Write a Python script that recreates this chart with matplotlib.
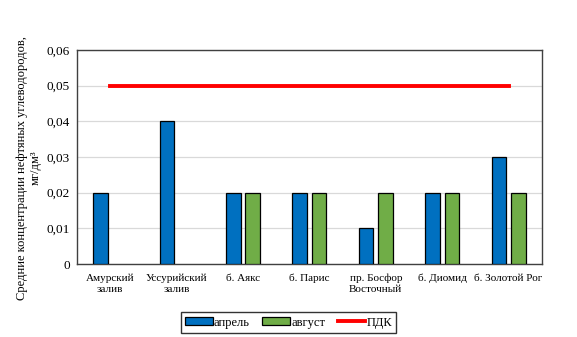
import matplotlib
matplotlib.use('Agg')
import matplotlib.pyplot as plt
import numpy as np

plt.rcParams['font.family'] = ['Liberation Serif', 'DejaVu Serif']

sites = ["Амурский\nзалив", "Уссурийский\nзалив", "б. Аякс", "б. Парис",
         "пр. Босфор\nВосточный", "б. Диомид", "б. Золотой Рог"]
april = [0.02, 0.04, 0.02, 0.02, 0.01, 0.02, 0.03]
august = [0, 0, 0.02, 0.02, 0.02, 0.02, 0.02]
pdk = [0.05] * 7
yticks = [0, 0.01, 0.02, 0.03, 0.04, 0.05, 0.06]
ytick_labels = ["0", "0,01", "0,02", "0,03", "0,04", "0,05", "0,06"]

fig = plt.figure(figsize=(5.77, 3.37), dpi=100)
ax = fig.add_axes([0.1335, 0.2166, 0.8055, 0.635])

x = np.arange(len(sites))
w = 0.22
b1 = ax.bar(x - 0.145, april, w, color='#0070C0', edgecolor='black', lw=0.9, label='апрель', zorder=3)
aug = np.array(august, dtype=float)
mask = aug > 0
b2 = ax.bar(x[mask] + 0.145, aug[mask], w, color='#70AD47', edgecolor='black', lw=0.9, label='август', zorder=3)
l1, = ax.plot(x, pdk, color='#FF0000', lw=2.8, label='ПДК', zorder=4)

ax.set_xlim(-0.5, len(sites) - 0.5)
ax.set_ylim(0, 0.06)
ax.set_yticks(yticks)
ax.set_yticklabels(ytick_labels, fontsize=9.5)
ax.set_xticks(x)
ax.set_xticklabels(sites, fontsize=8, linespacing=1.25)
ax.tick_params(axis='x', length=0, pad=7)
ax.tick_params(axis='y', length=0, pad=5)
ax.grid(axis='y', color='#d9d9d9', lw=0.9, zorder=0)
for s in ax.spines.values():
    s.set_color('#404040')
    s.set_linewidth(1.0)

ax.set_ylabel("Средние концентрации нефтяных углеводородов,\nмг/дм³", fontsize=9, linespacing=1.2)
ax.yaxis.set_label_coords(-0.075, 0.45)

leg = fig.legend(handles=[b1, b2, l1], loc='upper center', bbox_to_anchor=(0.5, 0.092),
                 bbox_transform=fig.transFigure, ncol=3, fontsize=9,
                 frameon=True, fancybox=False, edgecolor='black', handlelength=2.2,
                 handleheight=0.6, handletextpad=0.1, columnspacing=1.0, borderpad=0.35)
leg.get_frame().set_linewidth(1.0)

plt.savefig('out.png', dpi=100)
